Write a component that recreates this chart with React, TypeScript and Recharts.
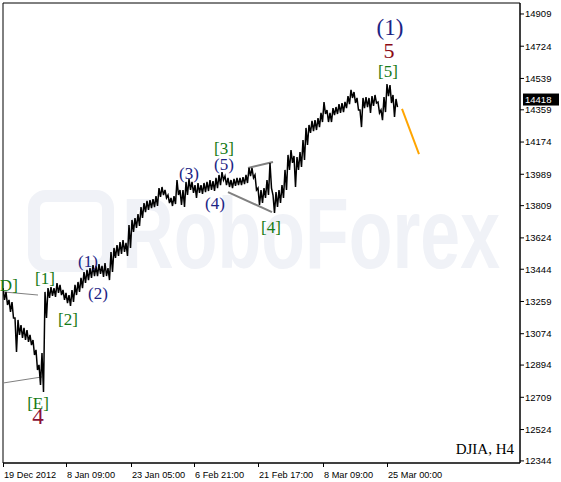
import React from 'react';
import { ComposedChart, Line, XAxis, YAxis, ReferenceLine, ReferenceDot, ReferenceArea } from 'recharts';

// H4 bars, every third bar (high / low)
const highs = [
  13336, 13314, 13268, 13256, 13164, 13153, 13124, 13107, 13095, 13067, 13038, 12981, 12895, 12963, 13314,
  13336, 13342, 13336, 13365, 13354, 13325, 13308, 13296, 13325, 13354, 13371, 13394, 13428, 13440, 13451,
  13468, 13463, 13474, 13463, 13480, 13451, 13543, 13566, 13583, 13600, 13612, 13595, 13698, 13727, 13738,
  13761, 13801, 13824, 13836, 13841, 13847, 13864, 13910, 13916, 13899, 13870, 13853, 13864, 13956, 13899,
  13899, 13945, 13962, 13945, 13927, 13939, 13927, 13939, 13945, 13956, 13950, 13968, 13985, 14002, 13979,
  13968, 13956, 13962, 13968, 13968, 13973, 13985, 14025, 14025, 13985, 13910, 13899, 13910, 13956, 14054,
  13870, 13887, 13899, 13927, 14014, 14100, 14128, 14094, 14088, 14117, 14186, 14255, 14272, 14295, 14300,
  14312, 14341, 14404, 14358, 14341, 14369, 14375, 14392, 14398, 14404, 14438, 14473, 14461, 14427, 14358,
  14427, 14432, 14427, 14438, 14444, 14404, 14358, 14432, 14507, 14501, 14444, 14421,
];
const lows = [
  13268, 13239, 13199, 13164, 12969, 13067, 13050, 13038, 13027, 13009, 12952, 12866, 12780, 12740, 13164,
  13279, 13291, 13285, 13308, 13296, 13268, 13250, 13233, 13256, 13296, 13314, 13336, 13365, 13382, 13394,
  13405, 13405, 13417, 13400, 13405, 13382, 13428, 13509, 13520, 13532, 13543, 13520, 13566, 13658, 13681,
  13692, 13738, 13772, 13784, 13795, 13801, 13807, 13859, 13870, 13853, 13824, 13807, 13818, 13870, 13813,
  13801, 13870, 13899, 13882, 13853, 13882, 13876, 13887, 13893, 13899, 13893, 13910, 13927, 13956, 13927,
  13916, 13910, 13922, 13927, 13927, 13933, 13939, 13979, 13968, 13899, 13813, 13824, 13853, 13870, 13910,
  13767, 13801, 13824, 13853, 13899, 14014, 14054, 13916, 14014, 14031, 14071, 14157, 14226, 14237, 14243,
  14260, 14289, 14335, 14289, 14289, 14329, 14335, 14341, 14346, 14369, 14392, 14427, 14398, 14358, 14260,
  14369, 14375, 14341, 14381, 14398, 14341, 14300, 14346, 14438, 14398, 14318, 14375,
];

const timeTicks = [0, 63, 128, 191, 255, 320, 384];
const timeLabels = ['19 Dec 2012', '8 Jan 09:00', '23 Jan 05:00', '6 Feb 21:00', '21 Feb 17:00', '8 Mar 09:00', '25 Mar 00:00'];
const priceTicks = [12344, 12524, 12709, 12894, 13074, 13259, 13444, 13624, 13809, 13989, 14174, 14359, 14539, 14724, 14909];
const lastPrice = 14418;

// wave marks: [text, bar, price, color, size]
const waveLabels: [string, number, number, string, number][] = [
  ['(1)', 387, 14834, '#1c2484', 23],
  ['5', 386, 14702, '#8b0a14', 22],
  ['[5]', 385, 14582, '#157a15', 17],
  ['[3]', 221, 14140, '#157a15', 17],
  ['(5)', 221, 14048, '#1c2484', 17],
  ['(3)', 186, 13996, '#1c2484', 17],
  ['(4)', 212, 13824, '#1c2484', 17],
  ['[4]', 268, 13687, '#157a15', 17],
  ['(1)', 85, 13491, '#1c2484', 17],
  ['(2)', 95, 13308, '#1c2484', 17],
  ['[1]', 42, 13394, '#157a15', 17],
  ['[2]', 65, 13159, '#157a15', 17],
  ['[D]', 3, 13354, '#157a15', 17],
  ['[E]', 35, 12677, '#157a15', 17],
  ['4', 35, 12602, '#8b1034', 23],
];

// drawn lines: [bar1, price1, bar2, price2, color, width]
const trendLines: [number, number, number, number, string, number][] = [
  [0, 13314, 35, 13296, '#808080', 1],
  [0, 12791, 39, 12826, '#808080', 1],
  [245, 14025, 270, 14060, '#808080', 2],
  [225, 13887, 269, 13772, '#808080', 2],
  [399, 14364, 416, 14105, '#ffa500', 2],
];

const bars = highs.flatMap((hi, i) => [
  { t: i * 3, p: hi },
  { t: i * 3 + 1.5, p: lows[i] },
]);

const axisFont = '"Liberation Sans", Arial, sans-serif';
const serif = '"Liberation Serif", "Times New Roman", serif';

const PriceTick = ({ x, y, payload }: any) => {
  const v = payload.value;
  if (v === lastPrice) {
    return (
      <g>
        <rect x={x + 3} y={y - 6} width={36} height={12} fill="#000" />
        <text x={x + 5} y={y} dy="0.35em" fill="#fff" fontSize={9.5} fontFamily={axisFont}>{v}</text>
      </g>
    );
  }
  return (
    <g>
      <line x1={x} x2={x + 4} y1={y} y2={y} stroke="#000" />
      <text x={x + 5} y={y} dy="0.35em" fill="#000" fontSize={9.5} fontFamily={axisFont}>{v}</text>
    </g>
  );
};

const TimeTick = ({ x, y, payload }: any) => {
  const idx = timeTicks.indexOf(payload.value);
  return (
    <g>
      <line x1={x + 0.5} x2={x + 0.5} y1={y} y2={y + 4} stroke="#000" />
      <text x={x + 1} y={y + 15} fill="#000" fontSize={9.2} fontFamily={axisFont}>{timeLabels[idx]}</text>
    </g>
  );
};

const Watermark = () => (
  <svg width={561} height={482} style={{ position: 'absolute', left: 0, top: 0 }}>
    <rect x={34} y={196} width={74} height={70} rx={12} fill="none" stroke="#f0f2f7" strokeWidth={12} />
    <text x={122} y={268} fontSize={100} fontFamily={axisFont} fontWeight={700} fill="#f0f2f7"
      textLength={378} lengthAdjust="spacingAndGlyphs">RoboForex</text>
    <text x={514} y={454} textAnchor="end" fontSize={15} fontFamily={serif} fill="#000">DJIA, H4</text>
  </svg>
);

export default function App() {
  return (
    <div style={{ position: 'relative', width: 561, height: 482, background: '#fff' }}>
      <style>{'body{margin:0}'}</style>
      <Watermark />
      <div style={{ position: 'absolute', left: 0, top: 0 }}>
        <ComposedChart width={561} height={482} data={bars} margin={{ top: 3, right: 0, bottom: 0, left: 3 }}>
          <XAxis dataKey="t" type="number" domain={[0, 517]} allowDataOverflow ticks={timeTicks}
            tick={<TimeTick />} tickLine={false} tickSize={0} tickMargin={0} height={19}
            axisLine={{ stroke: '#000' }} interval={0} />
          <YAxis orientation="right" type="number" domain={[12332, 14972]} allowDataOverflow
            ticks={[...priceTicks, lastPrice]} tick={<PriceTick />} tickLine={false} tickSize={0}
            tickMargin={0} width={41} axisLine={{ stroke: '#000' }} interval={0} />
          <ReferenceArea x1={0} x2={517} y1={12332} y2={14972} fill="none" stroke="#000" strokeWidth={1} />
          {trendLines.map(([t1, p1, t2, p2, c, w], i) => (
            <ReferenceLine key={`l${i}`} segment={[{ x: t1, y: p1 }, { x: t2, y: p2 }]} stroke={c} strokeWidth={w} />
          ))}
          <Line dataKey="p" type="linear" stroke="#000" strokeWidth={1.5} dot={false} isAnimationActive={false} />
          {waveLabels.map(([txt, t, p, c, s], i) => (
            <ReferenceDot key={`w${i}`} x={t} y={p} r={0}
              shape={(props: any) => (
                <text x={props.cx} y={props.cy} dy="0.35em" textAnchor="middle" fontSize={s}
                  fontFamily={serif} fill={c}>{txt}</text>
              )} />
          ))}
        </ComposedChart>
      </div>
    </div>
  );
}
